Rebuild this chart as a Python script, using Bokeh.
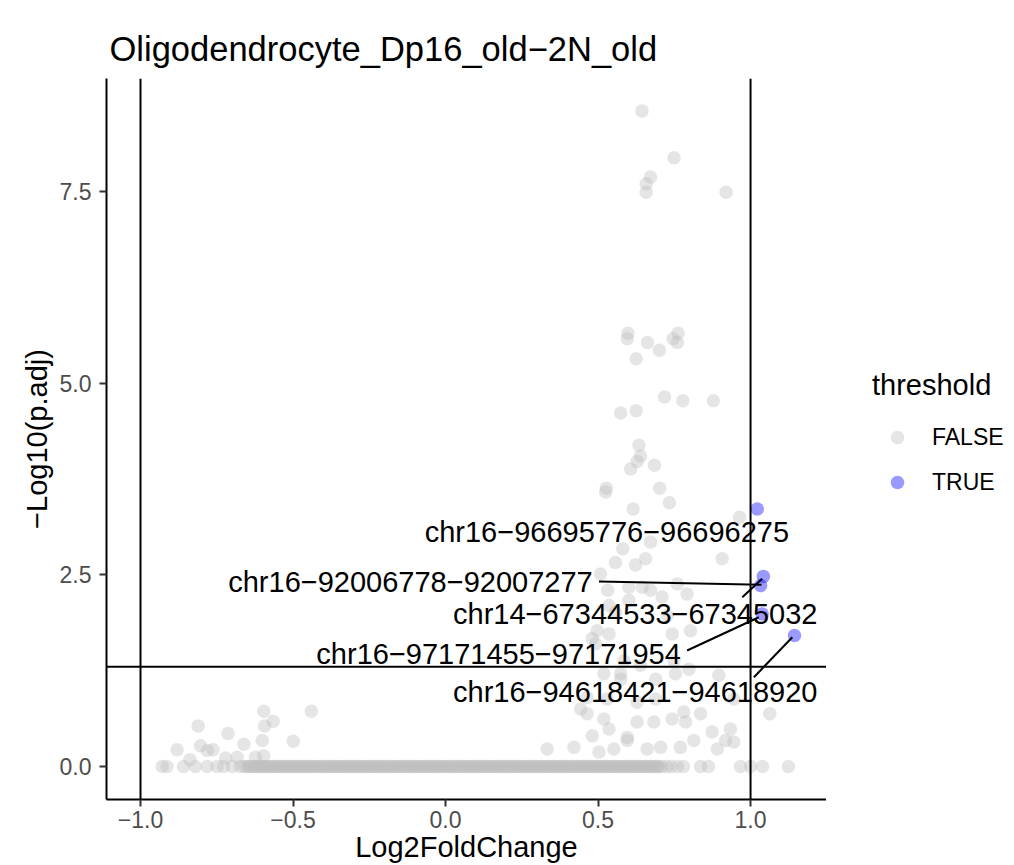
import math
from bokeh.plotting import figure
from bokeh.layouts import row
from bokeh.models import (ColumnDataSource, Range1d, FixedTicker, Span, Legend,
                          LegendItem, CustomJSTickFormatter)
from bokeh.embed import file_html
from bokeh.resources import INLINE
from bokeh.core.properties import value

FONT = "Liberation Sans"

# ---------------- text ----------------
title_text = "Oligodendrocyte_Dp16_old\u22122N_old"
x_title = "Log2FoldChange"
y_title = "\u2212Log10(p.adj)"
legend_title = "threshold"

x_ticks = [-1.0, -0.5, 0.0, 0.5, 1.0]
x_tick_labels = ["\u22121.0", "\u22120.5", "0.0", "0.5", "1.0"]
y_ticks = [0.0, 2.5, 5.0, 7.5]
y_tick_labels = ["0.0", "2.5", "5.0", "7.5"]

fc_cutoffs = [-1.0, 1.0]
padj_cutoff = 0.05

# ---------------- data ----------------
# dense row of genes with p.adj = 1 (-log10 = 0)
zero_band_x = [
    -0.66, -0.65, -0.64, -0.63, -0.62, -0.61, -0.60, -0.59, -0.58, -0.57,
    -0.56, -0.55, -0.54, -0.53, -0.52, -0.51, -0.50, -0.49, -0.48, -0.47,
    -0.46, -0.45, -0.44, -0.43, -0.42, -0.41, -0.40, -0.39, -0.38, -0.37,
    -0.36, -0.35, -0.34, -0.33, -0.32, -0.31, -0.30, -0.29, -0.28, -0.27,
    -0.26, -0.25, -0.24, -0.23, -0.22, -0.21, -0.20, -0.19, -0.18, -0.17,
    -0.16, -0.15, -0.14, -0.13, -0.12, -0.11, -0.10, -0.09, -0.08, -0.07,
    -0.06, -0.05, -0.04, -0.03, -0.02, -0.01, 0.00, 0.01, 0.02, 0.03,
    0.04, 0.05, 0.06, 0.07, 0.08, 0.09, 0.10, 0.11, 0.12, 0.13,
    0.14, 0.15, 0.16, 0.17, 0.18, 0.19, 0.20, 0.21, 0.22, 0.23,
    0.24, 0.25, 0.26, 0.27, 0.28, 0.29, 0.30, 0.31, 0.32, 0.33,
    0.34, 0.35, 0.36, 0.37, 0.38, 0.39, 0.40, 0.41, 0.42, 0.43,
    0.44, 0.45, 0.46, 0.47, 0.48, 0.49, 0.50, 0.51, 0.52, 0.53,
    0.54, 0.55, 0.56, 0.57, 0.58, 0.59, 0.60, 0.61, 0.62, 0.63,
    0.64, 0.65, 0.66, 0.67, 0.68, 0.69, 0.70, 0.71,
    -0.645, -0.625, -0.605, -0.585, -0.565, -0.545, -0.525, -0.505, -0.485, -0.465,
    -0.445, -0.425, -0.405, -0.385, -0.365, -0.345, -0.325, -0.305, -0.285, -0.265,
    -0.245, -0.225, -0.205, -0.185, -0.165, -0.145, -0.125, -0.105, -0.085, -0.065,
    -0.045, -0.025, -0.005, 0.015, 0.035, 0.055, 0.075, 0.095, 0.115, 0.135,
    0.155, 0.175, 0.195, 0.215, 0.235, 0.255, 0.275, 0.295, 0.315, 0.335,
    0.355, 0.375, 0.395, 0.415, 0.435, 0.455, 0.475, 0.495, 0.515, 0.535,
    0.555, 0.575, 0.595, 0.615, 0.635, 0.655, 0.675, 0.695,
    0.725, 0.74, 0.76, 0.78, 0.836, 0.862, 0.967, 1.000, 1.039, 1.124,
    -0.929, -0.913, -0.859, -0.820, -0.781, -0.749, -0.728, -0.699, -0.672,
]

# other non-significant genes
false_x = [
    0.644, 0.749, 0.672, 0.658, 0.658, 0.920,
    0.598, 0.596, 0.662, 0.701, 0.625, 0.762, 0.746, 0.760, 0.718, 0.778, 0.878, 0.574, 0.625,
    0.634, 0.639, 0.628, 0.607, 0.685, 0.527, 0.525, 0.702, 0.734, 0.615, 0.964,
    0.581, 0.672, 0.907, 0.557, 0.623, 0.656,
    0.508, 0.532, 0.601, 0.645, 0.672, 0.760, 0.792, 0.710, 0.601, 0.536, 0.557, 0.727,
    0.803, 0.497, 0.743, 0.481, 0.536, 0.492,
    0.585, 0.639, 0.749, 0.798, 0.896, 0.519, 0.574, 0.689, 0.754, 0.574,
    0.464, 0.530, 0.628, 0.689, 0.945, 0.443, 0.519, 0.536, 0.628, 0.683, 0.743, 0.836,
    1.063, 0.787, 0.781, 0.464,
    0.874, 0.934, 0.918, 0.481, 0.596, 0.333, 0.421, 0.503, 0.552, 0.596, 0.661, 0.705,
    0.770, 0.814, 0.891, 0.945,
    -0.596, -0.440, -0.565, -0.593, -0.601, -0.811, -0.713, -0.499, -0.661, -0.880,
    -0.803, -0.781, -0.762, -0.838, -0.721, -0.683, -0.623, -0.596,
]
false_y = [
    8.55, 7.94, 7.69, 7.60, 7.49, 7.49,
    5.65, 5.58, 5.53, 5.43, 5.32, 5.65, 5.58, 5.53, 4.82, 4.77, 4.77, 4.61, 4.64,
    4.19, 4.05, 3.98, 3.88, 3.93, 3.63, 3.58, 3.63, 3.44, 3.36, 3.25,
    2.84, 2.93, 2.71, 2.66, 2.63, 2.71,
    2.51, 2.30, 2.34, 2.34, 2.30, 2.38, 2.25, 2.21, 2.17, 2.10, 2.01, 1.97,
    1.77, 1.77, 1.73, 1.67, 1.73, 1.60,
    1.38, 1.32, 1.38, 1.27, 1.19, 1.21, 1.14, 1.14, 1.21, 1.21,
    0.90, 0.88, 0.84, 0.88, 0.88, 0.75, 0.62, 0.49, 0.58, 0.58, 0.62, 0.69,
    0.69, 0.58, 0.71, 0.69,
    0.45, 0.49, 0.34, 0.40, 0.38, 0.23, 0.25, 0.19, 0.23, 0.34, 0.23, 0.25,
    0.25, 0.34, 0.23, 0.32,
    0.72, 0.72, 0.59, 0.53, 0.34, 0.53, 0.43, 0.33, 0.29, 0.22,
    0.27, 0.21, 0.22, 0.09, 0.11, 0.12, 0.12, 0.14,
]

# significant genes
true_x = [1.022, 1.042, 1.033, 1.038, 1.144]
true_y = [3.36, 2.48, 2.36, 1.99, 1.71]

# repelled labels (text centre) and their connector segments
label_text = [
    "chr16\u221296695776\u221296696275",
    "chr16\u221292006778\u221292007277",
    "chr14\u221267344533\u221267345032",
    "chr16\u221297171455\u221297171954",
    "chr16\u221294618421\u221294618920",
]
label_x = [0.529, -0.115, 0.622, 0.174, 0.622]
label_y = [3.056, 2.404, 1.991, 1.470, 0.969]
seg_x0 = [0.503, 0.973, 0.792, 1.011]
seg_y0 = [2.413, 2.208, 1.513, 1.165]
seg_x1 = [1.036, 1.038, 1.027, 1.137]
seg_y1 = [2.370, 2.448, 1.947, 1.686]

# ---------------- main figure ----------------
all_false_x = zero_band_x + false_x
all_false_y = [0.0] * len(zero_band_x) + false_y

p = figure(width=826, height=865, output_backend="svg", toolbar_location=None,
           x_range=Range1d(-1.1115, 1.249), y_range=Range1d(-0.430, 8.974),
           min_border_left=106, min_border_right=0, min_border_top=78,
           min_border_bottom=66)

p.title.text = title_text
p.title.text_font = FONT
p.title.text_font_size = "34.5px"
p.title.text_font_style = "normal"
p.title.text_color = "black"
p.title.align = "left"
p.title.offset = 3
p.title.standoff = 21

p.grid.visible = False
p.outline_line_color = None
p.background_fill_color = "white"
p.border_fill_color = "white"

p.xaxis.ticker = FixedTicker(ticks=x_ticks)
p.yaxis.ticker = FixedTicker(ticks=y_ticks)
fmt_code = ("let i = -1; for (let k = 0; k < tvals.length; k++) {"
            " if (Math.abs(tvals[k] - tick) < 1e-9) { i = k; } }"
            " return i >= 0 ? tlabs[i] : '';")
p.xaxis.formatter = CustomJSTickFormatter(args=dict(tvals=x_ticks, tlabs=x_tick_labels), code=fmt_code)
p.yaxis.formatter = CustomJSTickFormatter(args=dict(tvals=y_ticks, tlabs=y_tick_labels), code=fmt_code)
p.xaxis.axis_label = x_title
p.yaxis.axis_label = y_title

for ax in (p.xaxis[0], p.yaxis[0]):
    ax.axis_line_color = "black"
    ax.axis_line_width = 2
    ax.major_tick_line_color = "#333333"
    ax.major_tick_line_width = 2
    ax.major_tick_out = 7
    ax.major_tick_in = 0
    ax.minor_tick_out = 0
    ax.minor_tick_in = 0
    ax.major_label_text_font = FONT
    ax.major_label_text_font_size = "23px"
    ax.major_label_text_color = "#4d4d4d"
    ax.axis_label_text_font = FONT
    ax.axis_label_text_font_size = "29px"
    ax.axis_label_text_font_style = "normal"
    ax.axis_label_text_color = "black"

p.xaxis.major_label_standoff = 4
p.xaxis.axis_label_standoff = 0
p.yaxis.major_label_standoff = 8
p.yaxis.axis_label_standoff = 4

src_false = ColumnDataSource(dict(x=all_false_x, y=all_false_y))
src_true = ColumnDataSource(dict(x=true_x, y=true_y))
point_style = dict(size=13.5, fill_alpha=0.4, line_color=None)
p.scatter("x", "y", source=src_false, fill_color="#bebebe", **point_style)
p.scatter("x", "y", source=src_true, fill_color="blue", **point_style)

for xv in fc_cutoffs:
    p.add_layout(Span(location=xv, dimension="height", line_color="black", line_width=2))
p.add_layout(Span(location=-math.log10(padj_cutoff), dimension="width",
                  line_color="black", line_width=2))

p.segment(x0=seg_x0, y0=seg_y0, x1=seg_x1, y1=seg_y1, line_color="black", line_width=2)
p.text(x=label_x, y=label_y, text=label_text, text_font=value(FONT),
       text_font_size="29px", text_align="center", text_baseline="middle",
       text_color="black")

# ---------------- legend panel (same sources, view range holds no data) ----------------
pl = figure(width=188, height=865, output_backend="svg", toolbar_location=None,
            x_range=Range1d(100, 101), y_range=Range1d(100, 101),
            x_axis_location=None, y_axis_location=None,
            min_border_left=0, min_border_right=0, min_border_top=0,
            min_border_bottom=0)
pl.grid.visible = False
pl.outline_line_color = None
pl.background_fill_color = "white"
pl.border_fill_color = "white"
l_false = pl.scatter("x", "y", source=src_false, fill_color="#bebebe", **point_style)
l_true = pl.scatter("x", "y", source=src_true, fill_color="blue", **point_style)

legend = Legend(items=[LegendItem(label="FALSE", renderers=[l_false]),
                       LegendItem(label="TRUE", renderers=[l_true])],
                location=(46, 300), title=legend_title)
legend.title_text_font = FONT
legend.title_text_font_size = "29px"
legend.title_text_font_style = "normal"
legend.title_text_color = "black"
legend.title_standoff = 18
legend.label_text_font = FONT
legend.label_text_font_size = "23px"
legend.label_text_color = "black"
legend.glyph_width = 50
legend.glyph_height = 34
legend.label_standoff = 10
legend.spacing = 11
legend.padding = 0
legend.margin = 0
legend.border_line_color = None
legend.background_fill_alpha = 0
pl.add_layout(legend)

layout = row(p, pl)
open("out.html", "w").write(file_html(layout, INLINE))
